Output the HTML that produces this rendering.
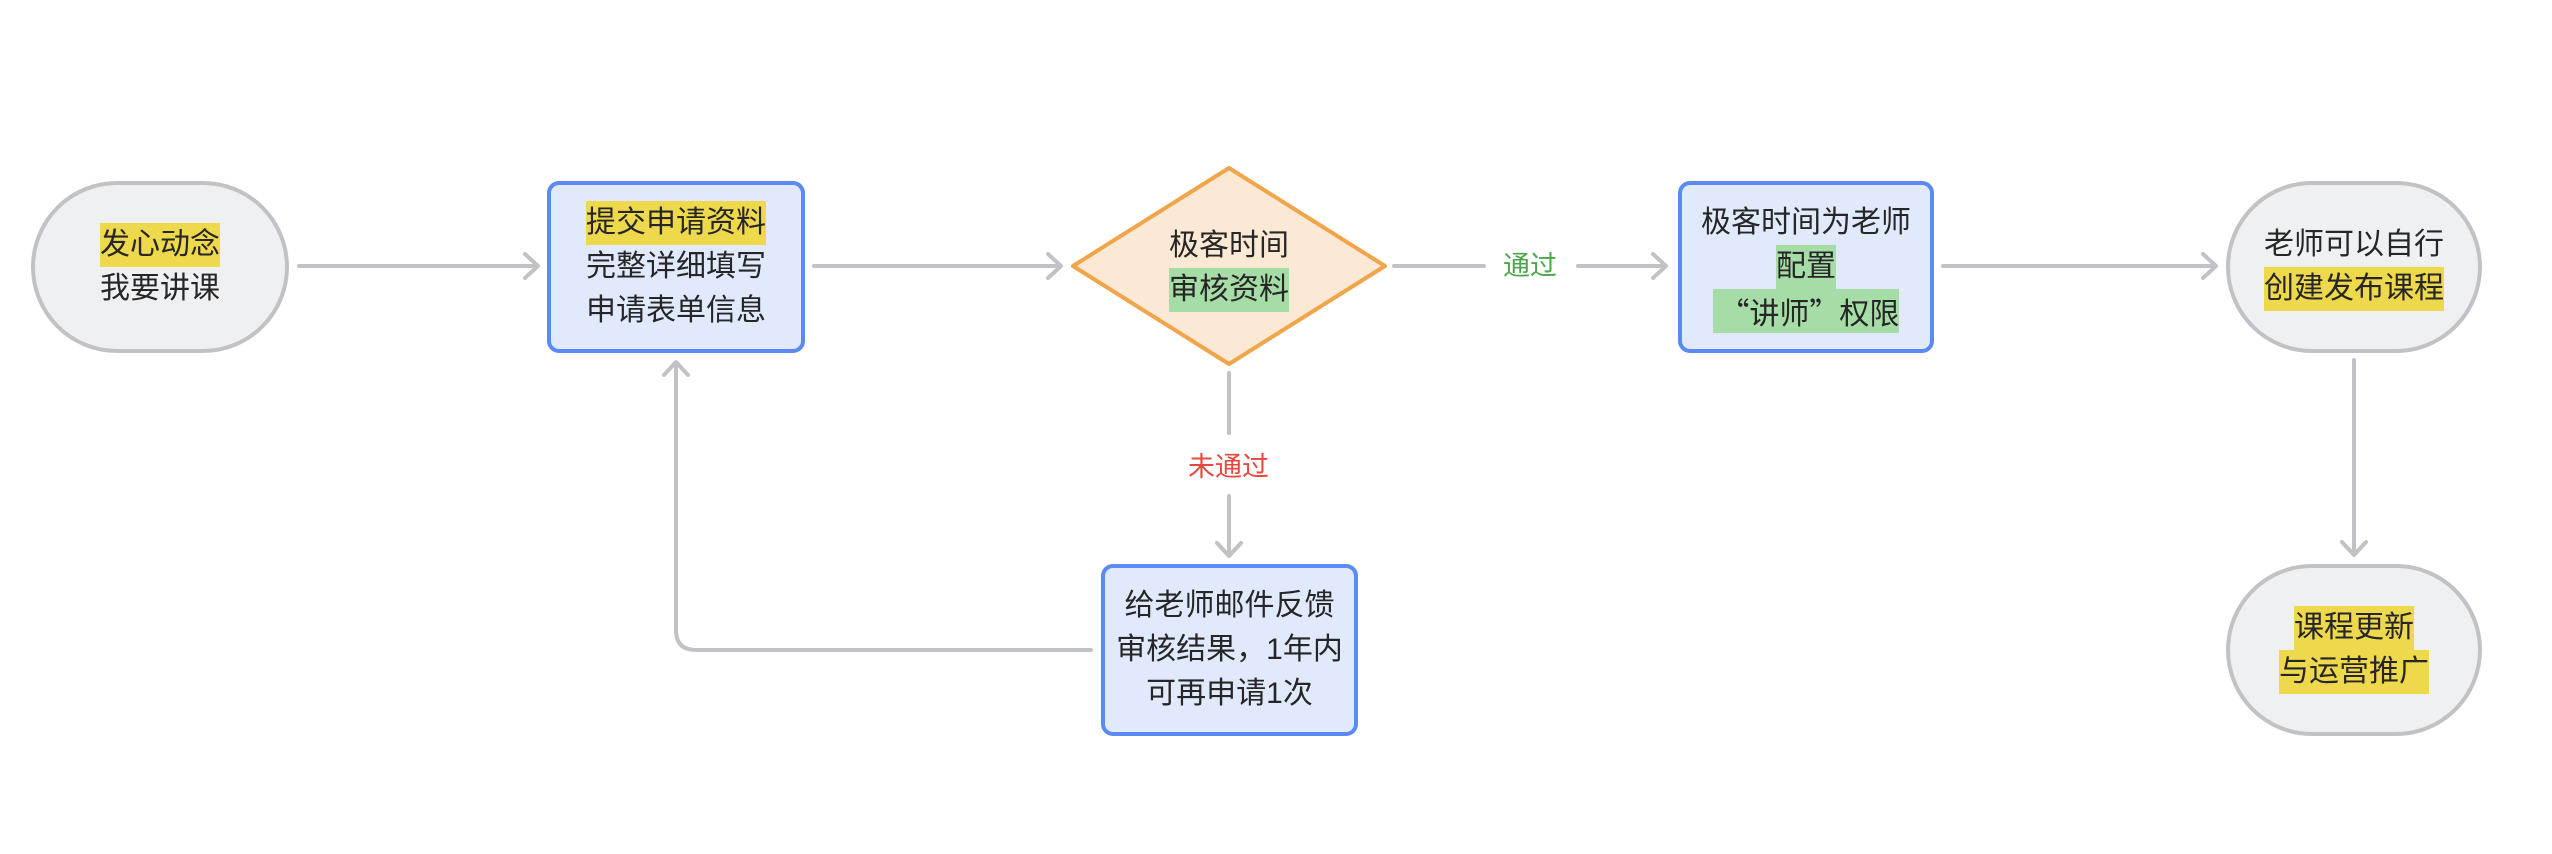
<!DOCTYPE html>
<html><head><meta charset="utf-8"><style>
html,body{margin:0;padding:0;background:#fff;}
body{width:2552px;height:854px;position:relative;overflow:hidden;font-family:"Liberation Sans","Noto Sans CJK SC",sans-serif;color:#262626;}
.n{position:absolute;box-sizing:border-box;display:flex;flex-direction:column;align-items:center;justify-content:center;font-size:30px;line-height:44px;text-align:center;}
.pill{background:#eef0f2;border:4px solid #c0c2c6;border-radius:86px;}
.box{background:#e1eafd;border:4px solid #5b8af5;border-radius:12px;}
.y{background:#eed84c;display:inline-block;}
.g{background:#a6dca6;display:inline-block;}
.cjk{font-family:"Noto Sans CJK SC",sans-serif;}
.lab{position:absolute;font-size:27px;line-height:34px;background:#fff;}
</style></head><body>
<svg width="2552" height="854" style="position:absolute;left:0;top:0">
<g stroke="#c0c2c6" stroke-width="4" fill="none" stroke-linecap="round" stroke-linejoin="round">
<line x1="299" y1="266" x2="537" y2="266"/><polyline points="525,254 538,266 525,278"/>
<line x1="814" y1="266" x2="1060" y2="266"/><polyline points="1048,254 1061,266 1048,278"/>
<line x1="1394" y1="266" x2="1484" y2="266"/>
<line x1="1578" y1="266" x2="1665" y2="266"/><polyline points="1653,254 1666,266 1653,278"/>
<line x1="1943" y1="266" x2="2215" y2="266"/><polyline points="2203,254 2216,266 2203,278"/>
<line x1="1229" y1="373" x2="1229" y2="433"/>
<line x1="1229" y1="496" x2="1229" y2="555"/><polyline points="1217,543 1229,556 1241,543"/>
<line x1="2354" y1="360" x2="2354" y2="554"/><polyline points="2342,542 2354,555 2366,542"/>
<path d="M1091,650 L696,650 Q676,650 676,630 L676,363"/><polyline points="664,375 676,362 688,375"/>
</g>
<polygon points="1073,266 1229,168 1385,266 1229,364" fill="#fbe9d6" stroke="#f0a54a" stroke-width="4" stroke-linejoin="round"/>
</svg>
<div class="n pill" style="left:31px;top:181px;width:258px;height:172px"><span class="y">发心动念</span><span>我要讲课</span></div>
<div class="n box" style="left:547px;top:181px;width:258px;height:172px"><span class="y">提交申请资料</span><span>完整详细填写</span><span>申请表单信息</span></div>
<div class="n" style="left:1129px;top:224px;width:200px;height:88px"><span>极客时间</span><span class="g">审核资料</span></div>
<div class="n box" style="left:1678px;top:181px;width:256px;height:172px"><span>极客时间为老师</span><span class="g">配置</span><span class="g cjk">&nbsp;“讲师”权限</span></div>
<div class="n pill" style="left:2226px;top:181px;width:256px;height:172px"><span>老师可以自行</span><span class="y">创建发布课程</span></div>
<div class="n box" style="left:1101px;top:564px;width:257px;height:172px"><span>给老师邮件反馈</span><span>审核结果，1年内</span><span>可再申请1次</span></div>
<div class="n pill" style="left:2226px;top:564px;width:256px;height:172px"><span class="y">课程更新</span><span class="y">与运营推广</span></div>
<div class="lab" style="left:1503px;top:249px;color:#4aa84a">通过</div>
<div class="lab" style="left:1188px;top:450px;color:#e8473e">未通过</div>
</body></html>
